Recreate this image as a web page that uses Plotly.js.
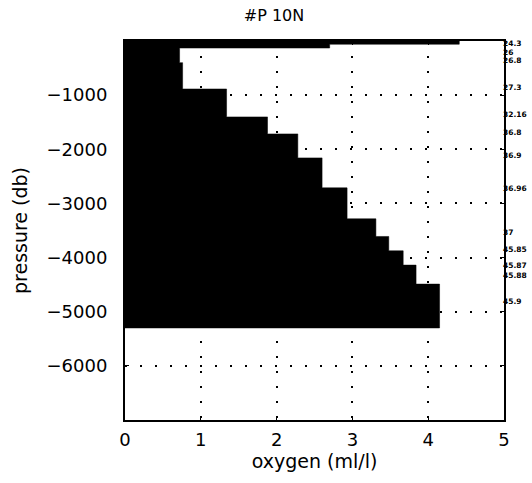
<!DOCTYPE html>
<html>
<head>
<meta charset="utf-8">
<script src="https://cdn.plot.ly/plotly-3.0.1.min.js"></script>
<style>html,body{margin:0;padding:0;background:#fff;}#chart{width:532px;height:483px;}</style>
</head>
<body>
<div id="chart"></div>
<script>
// Layer boundaries (pressure, db) and oxygen per layer (ml/l)
const layerTop    = [0, -60, -130, -400, -886, -1402, -1716, -2159, -2712, -3284, -3610, -3875, -4139, -4490];
const layerBottom = [-60, -130, -400, -886, -1402, -1716, -2159, -2712, -3284, -3610, -3875, -4139, -4490, -5300];
const oxygen      = [4.41, 2.70, 0.72, 0.76, 1.34, 1.88, 2.28, 2.60, 2.93, 3.31, 3.48, 3.67, 3.84, 4.15];

// Right-side labels and their pressure positions
const sideLabels   = ['24.3', '26', '26.8', '27.3', '32.16', '36.8', '36.9', '36.96', '37', '45.85', '45.87', '45.88', '45.9'];
const sidePressure = [-55, -212, -369, -867, -1365, -1697, -2122, -2731, -3542, -3856, -4151, -4330, -4815];

const xTicks = [0, 1, 2, 3, 4, 5];
const yTicks = [-6000, -5000, -4000, -3000, -2000, -1000];

// Build the staircase outline from the layer arrays
const px = [0], py = [layerTop[0]];
for (let i = 0; i < oxygen.length; i++) {
  px.push(oxygen[i]); py.push(layerTop[i]);
  px.push(oxygen[i]); py.push(layerBottom[i]);
}
px.push(0); py.push(layerBottom[layerBottom.length - 1]);

const trace = {
  x: px, y: py, type: 'scatter', mode: 'lines',
  fill: 'toself', fillcolor: '#000', line: {color: '#000', width: 0.5},
  hoverinfo: 'skip', showlegend: false
};

const annotations = sideLabels.map((t, i) => ({
  text: t, xref: 'paper', x: 1, xanchor: 'left', yref: 'y', y: sidePressure[i],
  yanchor: 'middle', showarrow: false, xshift: -2, borderpad: 0,
  font: {family: 'DejaVu Sans', size: 7.5, weight: 'bold', color: '#000'}
}));

const layout = {
  width: 532, height: 483,
  margin: {l: 125, r: 28, t: 41, b: 63},
  paper_bgcolor: '#fff', plot_bgcolor: '#fff',
  showlegend: false,
  title: {text: '#P 10N', font: {family: 'DejaVu Sans', size: 16, color: '#000'},
          x: 0.515, xanchor: 'center', y: 0.969, yref: 'container', yanchor: 'middle'},
  xaxis: {
    range: [0, 5], tickvals: xTicks, ticktext: xTicks.map(String),
    showline: true, linecolor: '#000', linewidth: 2, mirror: 'ticks',
    ticks: 'inside', ticklen: 4, tickcolor: '#000',
    showgrid: true, gridcolor: '#000', gridwidth: 2, griddash: '2px,13px',
    zeroline: false, tickfont: {family: 'DejaVu Sans', size: 18, color: '#000'},
    ticklabelstandoff: 2,
    title: {text: 'oxygen (ml/l)', font: {family: 'DejaVu Sans', size: 19, color: '#000'}, standoff: 4}
  },
  yaxis: {
    range: [-7000, 0], tickvals: yTicks, ticktext: yTicks.map(v => '\u2212' + Math.abs(v)),
    showline: true, linecolor: '#000', linewidth: 2, mirror: 'ticks',
    ticks: 'inside', ticklen: 4, tickcolor: '#000',
    showgrid: true, gridcolor: '#000', gridwidth: 2, griddash: '2px,13px',
    zeroline: false, tickfont: {family: 'DejaVu Sans', size: 18, color: '#000'},
    ticklabelstandoff: 12,
    title: {text: 'pressure (db)', font: {family: 'DejaVu Sans', size: 19, color: '#000'}, standoff: 14}
  },
  annotations: annotations
};

Plotly.newPlot('chart', [trace], layout, {staticPlot: true, displayModeBar: false});
</script>
</body>
</html>
